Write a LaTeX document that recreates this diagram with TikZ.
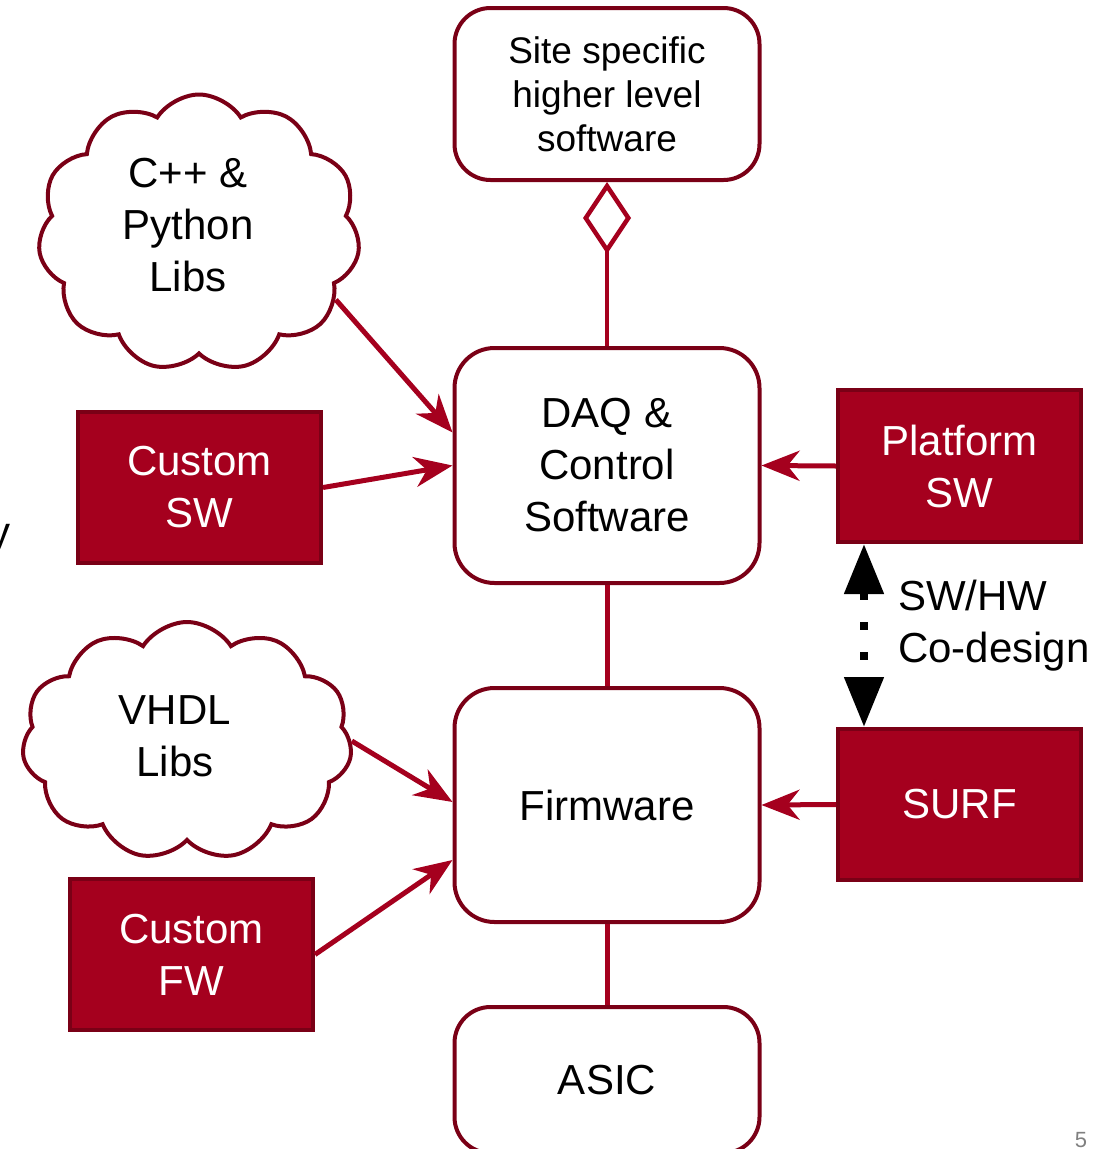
\documentclass[tikz,border=0pt]{standalone}
\usepackage{fontspec}
\setmainfont{Liberation Sans}
\usetikzlibrary{arrows.meta,shapes.symbols}
\definecolor{boxfill}{HTML}{A5001E}
\definecolor{boxline}{HTML}{7A0016}
\definecolor{arrowred}{HTML}{A5001E}
\begin{document}
\begin{tikzpicture}[x=1pt,y=-1pt,
  font=\fontsize{42}{52}\selectfont,
  whitebox/.style={draw=boxline, line width=4pt, fill=white, rounded corners=36pt,
    minimum width=305pt, inner sep=0pt, align=center},
  redbox/.style={draw=boxline, line width=4pt, fill=boxfill, text=white,
    minimum width=243pt, minimum height=151pt, inner sep=0pt, align=center},
  cloudshape/.style={cloud, draw=boxline, line width=4pt, fill=white, cloud puffs=11,
    cloud puff arc=115, inner sep=0pt},
  feed/.style={draw=arrowred, line width=5pt, -{Stealth[length=38pt,width=30pt,inset=12pt]}},
  link/.style={draw=arrowred, line width=5pt},
  codesign/.style={line width=8pt, dash pattern=on 8pt off 22pt,
    {Triangle[length=50pt,width=38pt]}-{Triangle[length=50pt,width=38pt]}}
]
\useasboundingbox (0,0) rectangle (1104,1149);

% white boxes
\node[whitebox, minimum height=172pt, font=\fontsize{37}{44}\selectfont] (site) at (607,94)
  {Site specific\\higher level\\software};
\node[whitebox, minimum height=235pt, rounded corners=40pt] (daq) at (607,465.5)
  {DAQ \&\\Control\\Software};
\node[whitebox, minimum height=234pt, rounded corners=40pt] (fw) at (607,805) {Firmware};
\node[whitebox, minimum height=146pt] (asic) at (607,1080) {ASIC};

% red boxes
\node[redbox] (csw) at (199.5,487.5) {Custom\\SW};
\node[redbox, minimum height=152pt] (plat) at (959.5,466) {Platform\\SW};
\node[redbox] (surf) at (959.5,804.5) {SURF};
\node[redbox] (cfw) at (191.5,954.5) {Custom\\FW};

% clouds
\node[cloudshape, minimum width=322pt, minimum height=277pt] (cl1) at (199,233) {};
\node[align=center] (cl1t) at (188,225) {C++ \&\\Python\\Libs};
\node[cloudshape, minimum width=330pt, minimum height=238pt] (cl2) at (187,741) {};
\node[align=center] (cl2t) at (175,736) {VHDL\\Libs};

% connectors
\draw[link, line width=4.5pt, -{Diamond[open, length=72pt, width=48pt]}] (daq.north) -- (site.south);
\draw[link] (daq.south) -- (fw.north);
\draw[link] (fw.south) -- (asic.north);
\draw[feed] (cl1.-26) -- ([yshift=33pt]daq.west);
\draw[feed] (csw.east) -- (daq.west);
\draw[feed] (plat.west) -- (daq.east);
\draw[feed] (cl2.east) -- ([yshift=3pt]fw.west);
\draw[feed] (cfw.east) -- ([yshift=-55pt]fw.west);
\draw[feed] (surf.west) -- (fw.east);

% co-design
\coordinate (cdtop) at ([xshift=-95.5pt]plat.south);
\coordinate (cdbot) at ([xshift=-95.5pt]surf.north);
\draw[codesign] (cdtop) -- (cdbot);
\node[anchor=west, align=left, inner sep=0pt] (cdlabel) at (898,626) {SW/HW\\Co-design};

% cut-off slide texts
\node[anchor=base east, inner sep=0pt] (cuty) at (11,546) {y};
\node[anchor=north, inner sep=0pt, text=gray, font=\fontsize{22}{26}\selectfont] (pagenum) at (1081,1132) {5};
\end{tikzpicture}
\end{document}
